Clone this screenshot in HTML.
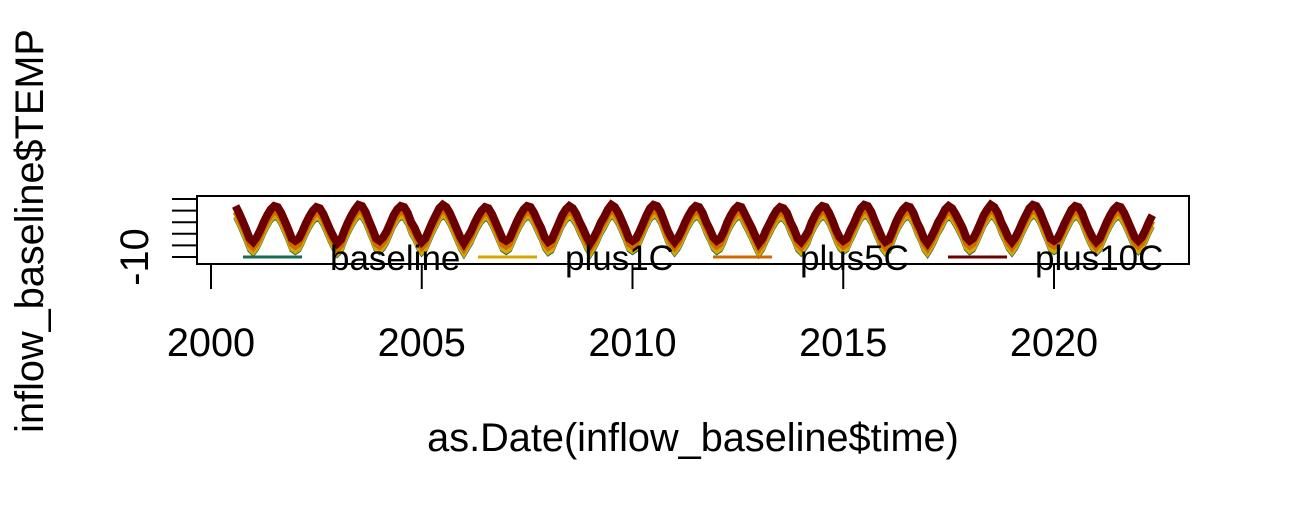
<!DOCTYPE html>
<html><head><meta charset="utf-8"><style>
html,body{margin:0;padding:0;background:#fff;}
svg{display:block;font-family:"Liberation Sans",Arial,sans-serif;}
</style></head><body>
<svg id="chart" width="1290" height="510" viewBox="0 0 1290 510">
<g id="series"></g>
<rect x="197" y="196" width="992" height="68" fill="none" stroke="#000" stroke-width="2"/>
<g id="xaxis"></g>
<g id="yaxis"></g>
<text x="693" y="451" font-size="39.7" text-anchor="middle">as.Date(inflow_baseline$time)</text>
<text transform="translate(43,231) rotate(-90)" font-size="39.7" text-anchor="middle">inflow_baseline$TEMP</text>
<g id="legend"></g>
</svg>
<script>
// monthly baseline temperature, starting Aug 2000 (one row per year Jan..Dec)
const startYear = 2000 + 7/12;
const baseline = [
 24,18,11,4,-4,
 -7,-3,3,10,16,21,24,23,18,11,4,-4,
 -6,-4,2,9,15,20,23,22,17,10,3,-3,
 -8,-5,3,10,16,21,25,24,19,11,4,-4,
 -6,-3,2,9,16,21,24,23,18,10,5,-2,
 -7,-4,3,10,16,22,25,23,18,11,4,-3,
 -8,-3,2,9,15,20,23,22,17,10,3,-4,
 -6,-4,3,10,16,21,24,23,18,11,5,-3,
 -7,-5,2,9,16,21,24,22,17,10,4,-3,
 -8,-3,3,10,15,21,25,23,18,11,4,-4,
 -6,-4,2,9,16,22,25,24,19,11,3,-3,
 -7,-3,3,10,16,21,24,23,18,10,4,-3,
 -6,-4,2,10,16,21,24,23,17,11,5,-2,
 -8,-4,3,9,15,20,23,22,18,10,4,-4,
 -7,-3,2,10,16,21,24,23,18,11,3,-3,
 -6,-4,3,9,16,22,25,24,19,11,4,-3,
 -7,-5,2,10,16,21,24,23,18,10,4,-4,
 -8,-3,3,10,15,21,24,22,17,11,5,-3,
 -6,-4,2,9,16,21,25,23,18,10,4,-3,
 -7,-3,3,10,16,22,25,24,19,11,4,-4,
 -6,-4,2,9,15,21,24,23,18,10,3,-3,
 -7,-4,3,10,16,21,24,23,18,11,4,-3,
 -6,-3,3,10,16
];
const seriesNames = ["baseline","plus1C","plus5C","plus10C"];
const seriesOffsets = [0,1,5,10];
const seriesColors = ["#1b6b50","#d4a800","#d06a00","#6b0000"];
const xTicks = [2000,2005,2010,2015,2020];
const yTicks = [-10,0,10,20,30,40];
const yLabels = ["-10"];

const NS="http://www.w3.org/2000/svg";
function xs(yr){return 211+(yr-2000)*42.15;}
function ys(v){return 257-(v+10)*1.16;}
function mk(tag,attrs,parent){const e=document.createElementNS(NS,tag);for(const k in attrs)e.setAttribute(k,attrs[k]);parent.appendChild(e);return e;}

const sg=document.getElementById("series");
const widths=[5,5,6,8];
seriesNames.forEach((nm,si)=>{
  const pts=baseline.map((v,i)=>xs(startYear+i/12).toFixed(1)+","+ys(v+seriesOffsets[si]).toFixed(1)).join(" ");
  const p=mk("polyline",{points:pts,fill:"none",stroke:seriesColors[si],"stroke-width":widths[si],"stroke-linejoin":"miter"},sg);
  
  
});

const xg=document.getElementById("xaxis");
xTicks.forEach(t=>{
  const l=mk("line",{x1:xs(t),x2:xs(t),y1:265,y2:289,stroke:"#000","stroke-width":2},xg);
  
  
  const tx=mk("text",{x:xs(t),y:356,"font-size":39.7,"text-anchor":"middle"},xg);
  tx.textContent=t;
  
  
});
const yg=document.getElementById("yaxis");
yTicks.forEach(t=>{
  const l=mk("line",{x1:172,x2:197,y1:ys(t),y2:ys(t),stroke:"#000","stroke-width":2},yg);
  
  
});
yLabels.forEach(s=>{
  const tx=mk("text",{transform:"translate(148,"+ys(+s)+") rotate(-90)","font-size":39.7,"text-anchor":"middle"},yg);
  tx.textContent=s;
  
  
});

const lg=document.getElementById("legend");
const legX=[243,478,713,948];
seriesNames.forEach((nm,i)=>{
  const l=mk("line",{x1:legX[i],x2:legX[i]+59,y1:257,y2:257,stroke:seriesColors[i],"stroke-width":3},lg);
  
  
  const tx=mk("text",{x:legX[i]+87,y:270,"font-size":35},lg);
  tx.textContent=nm;
  
  
});
</script>
</body></html>
